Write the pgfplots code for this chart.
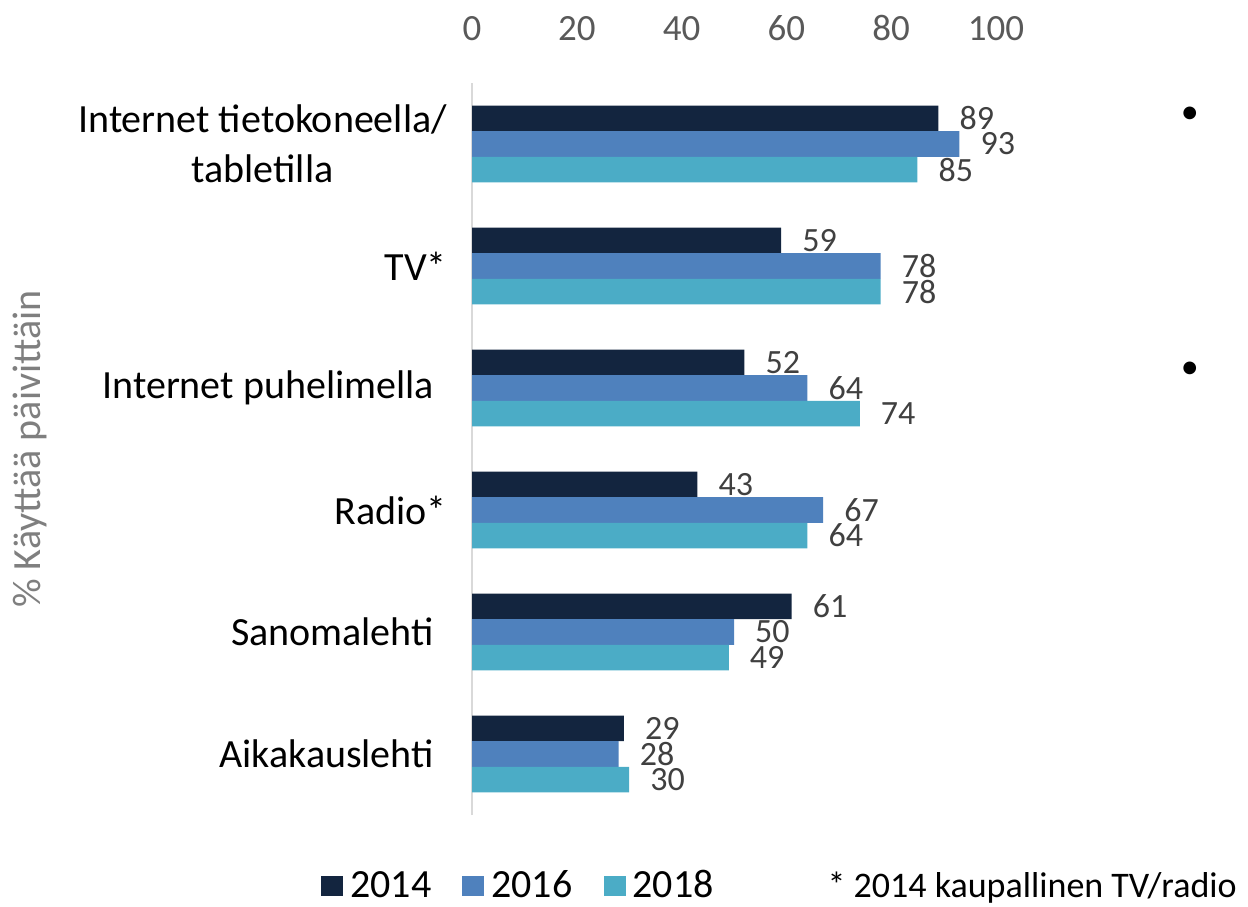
\documentclass[border=0pt]{standalone}
\usepackage{fontspec}
\setmainfont{Carlito}
\usepackage{pgfplots}
\pgfplotsset{compat=1.18}
\definecolor{c14}{HTML}{13253F}
\definecolor{c16}{HTML}{4F81BD}
\definecolor{c18}{HTML}{4BACC6}
\definecolor{tickgray}{HTML}{595959}
\definecolor{labgray}{HTML}{404040}
\definecolor{axgray}{HTML}{D9D9D9}
\definecolor{ylabgray}{HTML}{7F7F7F}
\newcommand{\fs}[1]{\fontsize{#1bp}{50bp}\selectfont}
\begin{document}
\begin{tikzpicture}
\begin{axis}[
  at={(472bp,92bp)}, anchor=south west,
  scale only axis, width=524bp, height=732bp,
  xmin=0, xmax=100, ymin=-0.5, ymax=5.5,
  xbar, bar width=0.21,
  axis x line*=top, axis y line*=left,
  x axis line style={draw=none},
  y axis line style={axgray, line width=1.5bp},
  major tick length=0pt,
  xtick={0,20,...,100}, ytick={0,...,5},
  /pgf/number format/assume math mode=true,
  xticklabel style={font=\fs{37}, color=tickgray, inner sep=0pt, yshift=42bp},
  yticklabel style={font=\fs{40}, color=black, inner sep=0pt, xshift=-25bp, align=center, anchor=east},
  yticklabels={{Aikakauslehti\rule{13bp}{0pt}}, {Sanomalehti\rule{13bp}{0pt}}, Radio*, {Internet puhelimella\rule{13bp}{0pt}}, TV*, {Internet tietokoneella/\\tabletilla}},
  every axis y label/.style={at={(axis description cs:-0.8435,0.5)}, rotate=90, anchor=center, font=\fs{40}, color=ylabgray},
  ylabel={\% Käyttää päivittäin},
  point meta=x,
  nodes near coords,
  every node near coord/.append style={anchor=west, inner sep=0pt, xshift=21bp, font=\fs{34}, color=labgray},
  legend image code/.code={\fill[#1] (0bp,-11bp) rectangle (22bp,9bp);},
  legend style={at={(axis description cs:0.0887,-0.0956)}, anchor=center, draw=none, fill=none, font=\fs{40}, text=black,
    legend columns=3,
    /tikz/every odd column/.append style={column sep=5bp},
    /tikz/every even column/.append style={column sep=29bp}},
  clip=false,
]
\addplot[fill=c14, draw=none, bar shift=0.21] coordinates {(89,5) (59,4) (52,3) (43,2) (61,1) (29,0)};
\addplot[fill=c16, draw=none, bar shift=0] coordinates {(93,5) (78,4) (64,3) (67,2) (50,1) (28,0)};
\addplot[fill=c18, draw=none, bar shift=-0.21] coordinates {(85,5) (78,4) (74,3) (64,2) (49,1) (30,0)};
\legend{2014,2016,2018}
\node[anchor=center, font=\fs{36}, text=black] at (axis description cs:1.069,-0.0997) {* 2014 kaupallinen TV/radio};
\node[anchor=center, font=\fs{36}, text=black] at (axis description cs:1.370,0.956) {\textbullet};
\node[anchor=center, font=\fs{36}, text=black] at (axis description cs:1.370,0.608) {\textbullet};
\end{axis}
\pgfresetboundingbox
\path (0,0) rectangle (1248bp,907bp);
\end{tikzpicture}
\end{document}
